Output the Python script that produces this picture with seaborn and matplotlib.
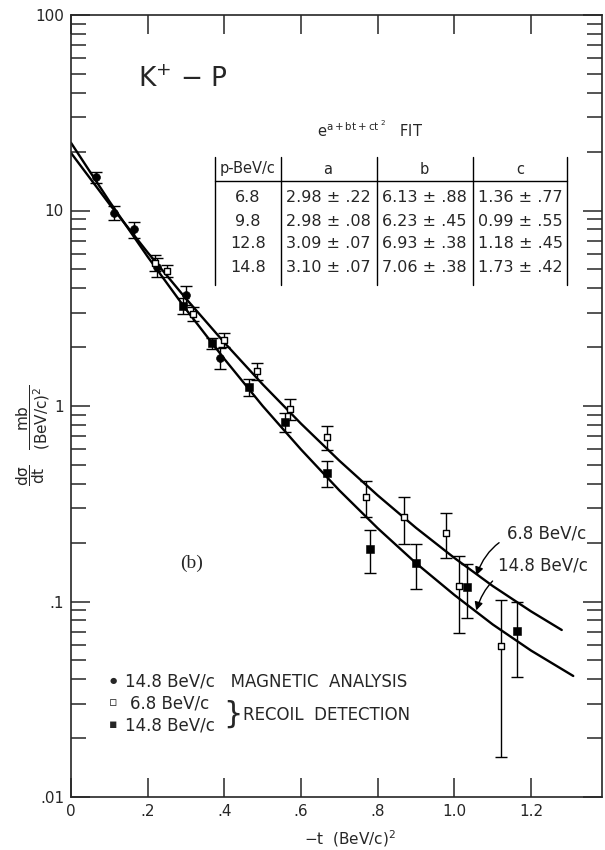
import numpy as np
import pandas as pd
import seaborn as sns
import matplotlib.pyplot as plt
from matplotlib.lines import Line2D

# fitted curves, values
fit_t = [0.0, 0.1, 0.2, 0.3, 0.4, 0.5, 0.6, 0.7, 0.8, 0.9, 1.0, 1.1, 1.2, 1.28]
fit_68 = [19.7, 10.8, 6.10, 3.54, 2.11, 1.29, 0.812, 0.525, 0.349, 0.238, 0.167, 0.120, 0.089, 0.0715]
fit_148_t = [0.0, 0.1, 0.2, 0.3, 0.4, 0.5, 0.6, 0.7, 0.8, 0.9, 1.0, 1.1, 1.2, 1.31]
fit_148 = [22.2, 11.15, 5.80, 3.12, 1.74, 1.00, 0.599, 0.370, 0.237, 0.157, 0.108, 0.0763, 0.0561, 0.0416]

# 14.8 BeV/c magnetic analysis (filled circles)
mag_t = [0.065, 0.112, 0.164, 0.224, 0.301, 0.388]
mag_y = [14.8, 9.7, 8.0, 5.15, 3.70, 1.76]
mag_err = [0.9, 0.8, 0.74, 0.57, 0.4, 0.22]

# 6.8 BeV/c recoil detection (open squares)
rec68_t = [0.219, 0.251, 0.319, 0.400, 0.485, 0.572, 0.667, 0.769, 0.869, 0.979, 1.013, 1.121]
rec68_y = [5.4, 4.9, 2.96, 2.18, 1.51, 0.967, 0.693, 0.342, 0.27, 0.225, 0.12, 0.059]
rec68_err = [0.5, 0.35, 0.25, 0.18, 0.145, 0.12, 0.097, 0.072, 0.072, 0.059, 0.051, 0.043]

# 14.8 BeV/c recoil detection (filled squares)
rec148_t = [0.292, 0.367, 0.464, 0.559, 0.667, 0.779, 0.899, 1.032, 1.163]
rec148_y = [3.25, 2.09, 1.25, 0.83, 0.455, 0.186, 0.157, 0.119, 0.0703]
rec148_err = [0.3, 0.13, 0.12, 0.09, 0.07, 0.046, 0.041, 0.037, 0.029]

# fit table
tab_p = ["6.8", "9.8", "12.8", "14.8"]
tab_a = ["2.98 ± .22", "2.98 ± .08", "3.09 ± .07", "3.10 ± .07"]
tab_b = ["6.13 ± .88", "6.23 ± .45", "6.93 ± .38", "7.06 ± .38"]
tab_c = ["1.36 ± .77", "0.99 ± .55", "1.18 ± .45", "1.73 ± .42"]

x_ticks = [0, 0.2, 0.4, 0.6, 0.8, 1.0, 1.2]
x_labels = ["0", ".2", ".4", ".6", ".8", "1.0", "1.2"]
y_ticks = [0.01, 0.1, 1, 10, 100]
y_labels = [".01", ".1", "1", "10", "100"]

sns.set_style("ticks")
plt.rcParams["font.family"] = ["DejaVu Sans"]
plt.rcParams["mathtext.fontset"] = "dejavusans"
plt.rcParams["mathtext.default"] = "regular"
plt.rcParams["axes.linewidth"] = 1.2

W, H = 605, 850


def fx(px):
    return px / W


def fy(py):
    return 1 - py / H


fig = plt.figure(figsize=(6.05, 8.5), dpi=100)
ax = fig.add_axes([fx(71), fy(797), 531 / W, 782 / H])
ax.set_yscale("log")

curves = pd.concat([
    pd.DataFrame({"t": fit_t, "v": fit_68, "p": "6.8"}),
    pd.DataFrame({"t": fit_148_t, "v": fit_148, "p": "14.8"}),
])
sns.lineplot(data=curves, x="t", y="v", units="p", estimator=None, sort=False,
             color="black", linewidth=1.7, ax=ax, legend=False)

for t, y, e in [(mag_t, mag_y, mag_err), (rec68_t, rec68_y, rec68_err), (rec148_t, rec148_y, rec148_err)]:
    ax.errorbar(t, y, yerr=e, fmt="none", ecolor="black", elinewidth=1, capsize=4.5, capthick=1, zorder=3)

sns.scatterplot(x=mag_t, y=mag_y, marker="o", s=32, color="black", edgecolor="black", ax=ax, zorder=4)
sns.scatterplot(x=rec148_t, y=rec148_y, marker="s", s=26, color="black", edgecolor="black", ax=ax, zorder=4)
sns.scatterplot(x=rec68_t, y=rec68_y, marker="s", s=22, color="white", edgecolor="black",
                linewidth=1, ax=ax, zorder=5)

ax.set_xlim(0, 1.385)
ax.set_ylim(0.01, 100)
ax.set_xticks(x_ticks)
ax.set_xticklabels(x_labels)
ax.set_yticks(y_ticks)
ax.set_yticklabels(y_labels)
ax.xaxis.set_minor_locator(plt.NullLocator())
ax.tick_params(which="both", direction="in", top=True, right=True, width=1.1, labelsize=11, pad=5)
ax.tick_params(which="major", length=14)
ax.tick_params(which="minor", length=11)
ax.set_xlabel("")
ax.set_ylabel("")
for s in ax.spines.values():
    s.set_visible(True)

# axis titles
fig.text(fx(350), fy(839), r"$-$t  (BeV/c)$^{2}$", ha="center", va="center", fontsize=11)
fig.text(fx(33), fy(435), r"$\dfrac{d\sigma}{dt}\quad\dfrac{mb}{(BeV/c)^{2}}$",
         rotation=90, ha="center", va="center", fontsize=11)

fig.text(fx(183), fy(80), r"K$^{+}$ $-$ P", ha="center", va="center", fontsize=19)
fig.text(fx(370), fy(130), r"e$^{a+bt+ct^{\ 2}}$   FIT", ha="center", va="center", fontsize=10.5)

# table
for x in [215, 281, 377, 473, 567]:
    fig.add_artist(Line2D([fx(x), fx(x)], [fy(157), fy(285)], color="black", lw=1))
fig.add_artist(Line2D([fx(215), fx(567)], [fy(181), fy(181)], color="black", lw=1))
col_x = [248, 328, 424, 520]
for cx, head in zip(col_x, ["p-BeV/c", "a", "b", "c"]):
    fig.text(fx(cx), fy(169), head, ha="center", va="center", fontsize=10.5)
row_y = [198, 221, 244, 267]
for i, ry in enumerate(row_y):
    for cx, col in zip(col_x, [tab_p, tab_a, tab_b, tab_c]):
        fig.text(fx(cx), fy(ry), col[i], ha="center", va="center", fontsize=11.5)

fig.text(fx(192), fy(563), "(b)", ha="center", va="center", fontsize=14, family="Liberation Serif")

# curve labels with arrows
ax.annotate("6.8 BeV/c", xy=(1.057, 0.136), xycoords="data",
            xytext=(fx(507), fy(533)), textcoords="figure fraction",
            ha="left", va="center", fontsize=12,
            arrowprops=dict(arrowstyle="-|>", color="black", lw=1,
                            connectionstyle="arc3,rad=0.4", shrinkA=4, shrinkB=0))
ax.annotate("14.8 BeV/c", xy=(1.057, 0.090), xycoords="data",
            xytext=(fx(498), fy(565)), textcoords="figure fraction",
            ha="left", va="center", fontsize=12,
            arrowprops=dict(arrowstyle="-|>", color="black", lw=1,
                            connectionstyle="arc3,rad=0.4", shrinkA=4, shrinkB=0))

# key
fig.text(fx(113), fy(681), "●", ha="center", va="center", fontsize=6)
fig.text(fx(125), fy(681), "14.8 BeV/c   MAGNETIC  ANALYSIS", ha="left", va="center", fontsize=12)
fig.text(fx(113), fy(703), "▫", ha="center", va="center", fontsize=9)
fig.text(fx(130), fy(703), "6.8 BeV/c", ha="left", va="center", fontsize=12)
fig.text(fx(113), fy(725), "▪", ha="center", va="center", fontsize=9)
fig.text(fx(125), fy(725), "14.8 BeV/c", ha="left", va="center", fontsize=12)
fig.text(fx(233), fy(714), "}", ha="center", va="center", fontsize=22)
fig.text(fx(243), fy(715), "RECOIL  DETECTION", ha="left", va="center", fontsize=12)

fig.savefig("out.png", dpi=100)
